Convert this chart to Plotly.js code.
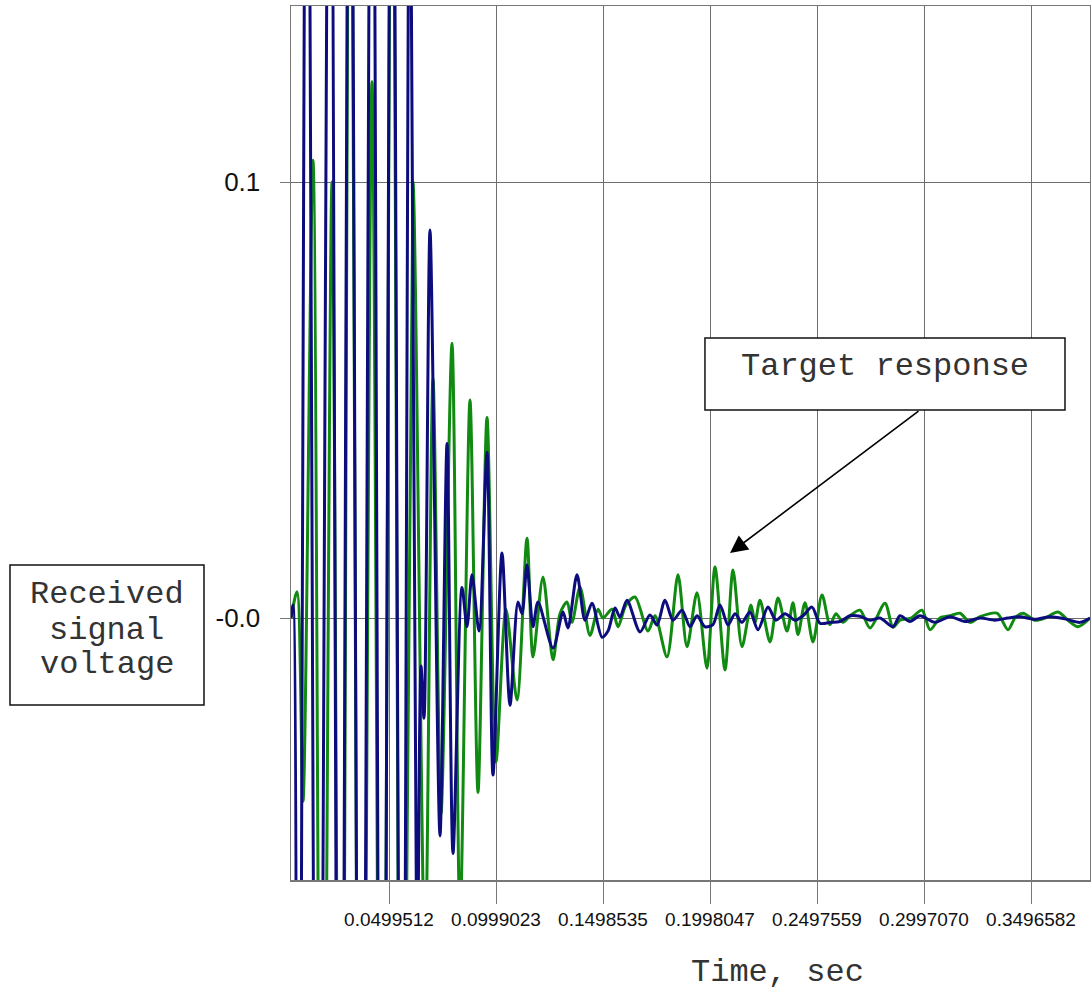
<!DOCTYPE html>
<html>
<head>
<meta charset="utf-8">
<script src="https://cdn.plot.ly/plotly-3.0.1.min.js"></script>
<style>html,body{margin:0;padding:0;background:#fff;}#chart{width:1091px;height:990px;}</style>
</head>
<body>
<div id="chart"></div>
<script>
// Time (s) and received voltage for the two recordings
const blueTime = [0.00420,0.00514,0.00747,0.01167,0.01681,0.02241,0.02708,0.03174,0.03688,0.04201,0.04668,0.05135,0.05602,0.05975,0.06302,0.06489,0.06629,0.06909,0.07376,0.07703,0.07983,0.08403,0.08636,0.08870,0.09197,0.09570,0.09850,0.10270,0.10644,0.11017,0.11204,0.11437,0.11717,0.11951,0.12651,0.13118,0.13351,0.13771,0.14145,0.14472,0.14939,0.15219,0.15545,0.15779,0.16106,0.16713,0.17179,0.17506,0.17880,0.18253,0.18673,0.19047,0.19373,0.19747,0.20120,0.20447,0.20821,0.21147,0.21474,0.21848,0.22221,0.22688,0.23061,0.23482,0.23948,0.24322,0.24742,0.25115,0.25582,0.26049,0.26516,0.26983,0.27450,0.27916,0.28523,0.28850,0.29317,0.29784,0.30484,0.31184,0.31884,0.32585,0.33285,0.33892,0.34452,0.35152,0.35853,0.36553,0.37253,0.37720];
const blueVolt = [0.000,0.003,-0.25,0.25,-0.25,0.25,-0.25,0.25,-0.25,0.25,-0.25,0.25,-0.22,0.20,-0.09,-0.011,-0.023,0.089,-0.050,0.040,-0.054,0.007,-0.002,0.0099,-0.003,0.038,-0.036,0.0149,-0.020,0.0037,0.001,0.0122,-0.002,0.0037,-0.0069,0.0014,-0.0023,0.0099,-0.0005,0.0034,-0.0044,-0.003,0.0023,0.0002,0.0041,-0.0032,0.0007,-0.0016,0.0041,-0.0005,0.0018,-0.002,0.0005,-0.002,-0.0015,0.003,-0.0016,0.001,-0.001,0.0014,-0.0027,0.0025,-0.0005,0.001,-0.0005,0.0005,0.0025,-0.0012,-0.001,-0.0008,0.0005,0.0004,-0.0005,0.0,-0.002,0.0005,-0.0008,0.0005,-0.001,0.0003,-0.0008,0.0,-0.0005,0.0,0.0003,-0.0003,0.0003,-0.0002,-0.001,0.0];

const greenTime = [0.00420,0.00700,0.00980,0.01447,0.01867,0.02334,0.02754,0.03174,0.03688,0.04201,0.04668,0.05135,0.05602,0.06115,0.06676,0.07049,0.07423,0.07936,0.08310,0.08776,0.09150,0.09570,0.09990,0.10457,0.10971,0.11437,0.11717,0.12184,0.12651,0.12978,0.13305,0.13538,0.13912,0.14378,0.14752,0.14985,0.15405,0.15685,0.16059,0.16479,0.17086,0.17413,0.17973,0.18486,0.18907,0.19373,0.19840,0.20214,0.20681,0.21054,0.21474,0.21894,0.22081,0.22314,0.22781,0.23155,0.23575,0.23855,0.24088,0.24415,0.24789,0.25209,0.25582,0.25862,0.26189,0.26516,0.26983,0.27450,0.28150,0.28523,0.28850,0.29364,0.29877,0.30251,0.30717,0.31184,0.31651,0.32118,0.32585,0.33378,0.33892,0.34218,0.34592,0.35152,0.35619,0.36226,0.36693,0.37160,0.37720];
const greenVolt = [0.000,0.006,-0.042,0.105,-0.20,0.10,-0.22,0.22,-0.22,0.123,-0.22,0.22,-0.20,0.10,-0.08,0.055,-0.045,0.063,-0.07,0.050,-0.040,0.046,-0.033,0.002,-0.0188,0.0183,-0.0089,0.0094,-0.0096,0.001,0.0037,-0.001,0.0071,-0.004,0.002,0.000,0.002,-0.002,0.003,0.0048,-0.003,0.0005,-0.0089,0.0099,-0.0066,0.0058,-0.0115,0.0117,-0.0119,0.011,-0.0066,0.003,-0.001,0.0041,-0.0055,0.0046,-0.003,0.0035,-0.0038,0.0035,-0.0055,0.0053,-0.0015,0.001,-0.001,0.0005,0.0018,-0.0023,0.0034,-0.0021,-0.0005,0.000,0.0018,-0.0027,0.0,0.0005,0.0011,-0.001,0.0003,0.0011,-0.0027,0.0,0.0011,-0.0005,0.0,0.0014,-0.0005,-0.002,0.0];

const xTickVals = [0.0499512,0.0999023,0.1498535,0.1998047,0.2497559,0.2997070,0.3496582];
const xTickText = ["0.0499512","0.0999023","0.1498535","0.1998047","0.2497559","0.2997070","0.3496582"];
const yTickVals = [0, 0.1];
const yTickText = ["-0.0", "0.1"];

const yLabelLines = ["Received", "signal", "voltage"];
const xLabel = "Time, sec";
const calloutText = "Target response";

const traces = [
  {x: greenTime, y: greenVolt, type: 'scatter', mode: 'lines',
   line: {color: '#108a10', width: 3, shape: 'spline', smoothing: 0.8}, hoverinfo: 'skip'},
  {x: blueTime, y: blueVolt, type: 'scatter', mode: 'lines',
   line: {color: '#0c0c7c', width: 3, shape: 'spline', smoothing: 0.8}, hoverinfo: 'skip'}
];

const mono = 'Liberation Mono, Courier New, monospace';
const textCol = '#333';
const annotations = [];
const lineY = [0.3272, 0.2860, 0.2460];
yLabelLines.forEach((t, i) => annotations.push({
  xref: 'paper', yref: 'paper', x: -0.2303, y: lineY[i], text: t, showarrow: false,
  xanchor: 'center', yanchor: 'middle', font: {family: mono, size: 32, color: textCol}
}));
annotations.push({xref: 'paper', yref: 'paper', x: 0.6095, y: -0.1053, text: xLabel, showarrow: false,
  xanchor: 'center', yanchor: 'middle', font: {family: mono, size: 32, color: textCol}});
annotations.push({xref: 'paper', yref: 'paper', x: 0.7434, y: 0.5870, text: calloutText, showarrow: false,
  xanchor: 'center', yanchor: 'middle', font: {family: mono, size: 32, color: textCol}});
annotations.push({xref: 'x', yref: 'y', axref: 'x', ayref: 'y', x: 0.20914, y: 0.01491, ax: 0.29784, ay: 0.04771,
  text: '', showarrow: true, arrowhead: 2, arrowsize: 2.2, arrowwidth: 1.6, arrowcolor: '#000'});

const shapes = [
  {type: 'rect', xref: 'paper', yref: 'paper', x0: -0.3517, x1: -0.1089, y0: 0.2002, y1: 0.3604,
   line: {color: '#111', width: 1.5}, fillcolor: '#fff', layer: 'above'},
  {type: 'rect', xref: 'paper', yref: 'paper', x0: 0.5181, x1: 0.9687, y0: 0.5378, y1: 0.6201,
   line: {color: '#111', width: 1.5}, fillcolor: '#fff', layer: 'above'}
];

const layout = {
  width: 1091, height: 990,
  margin: {l: 291, r: 1, t: 6, b: 110},
  paper_bgcolor: '#fff', plot_bgcolor: '#fff',
  showlegend: false,
  xaxis: {
    range: [0.004202, 0.3772], tickvals: xTickVals, ticktext: xTickText,
    ticks: 'outside', ticklen: 22, tickcolor: '#777', tickwidth: 1,
    showgrid: true, gridcolor: '#6e6e6e', gridwidth: 1, zeroline: false,
    showline: true, linecolor: '#777', linewidth: 1.5, mirror: true,
    tickfont: {family: 'Liberation Sans, Arial, sans-serif', size: 19, color: '#111'}
  },
  yaxis: {
    range: [-0.06009, 0.14037], tickvals: yTickVals, ticktext: yTickText,
    ticks: 'outside', ticklen: 10, tickcolor: '#777', tickwidth: 1,
    ticklabelstandoff: 14,
    showgrid: true, gridcolor: '#6e6e6e', gridwidth: 1, zeroline: false,
    showline: true, linecolor: '#777', linewidth: 1.5, mirror: true,
    tickfont: {family: 'Liberation Sans, Arial, sans-serif', size: 26, color: '#111'}
  },
  annotations: annotations,
  shapes: shapes
};

Plotly.newPlot('chart', traces, layout, {displayModeBar: false, staticPlot: true});
</script>
</body>
</html>
